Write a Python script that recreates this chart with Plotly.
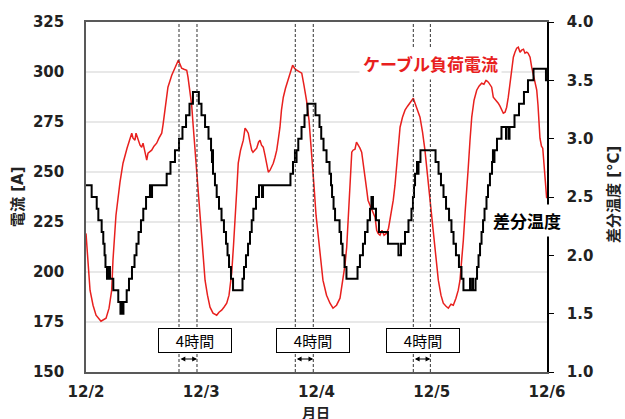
import plotly.graph_objects as go

# ---------------- data (time in days since 12/2 00:00) ----------------
cur_day = [0.000, 0.017, 0.035, 0.061, 0.087, 0.130, 0.174, 0.200, 0.223, 0.234,
           0.260, 0.295, 0.321, 0.356, 0.382, 0.397, 0.408, 0.425, 0.434, 0.451,
           0.469, 0.483, 0.495, 0.512, 0.527, 0.538, 0.570, 0.590, 0.613, 0.633,
           0.657, 0.668, 0.685, 0.711, 0.744, 0.772, 0.790, 0.801, 0.816, 0.830,
           0.850, 0.874, 0.885, 0.902, 0.917, 0.931, 0.946, 0.961, 0.972, 0.983,
           0.998, 1.015, 1.033, 1.054, 1.076, 1.102, 1.134, 1.154, 1.177, 1.197,
           1.221, 1.241, 1.264, 1.280, 1.293, 1.308, 1.321, 1.341, 1.365, 1.380,
           1.393, 1.408, 1.423, 1.438, 1.449, 1.466, 1.481, 1.497, 1.510, 1.523,
           1.538, 1.553, 1.568, 1.582, 1.597, 1.625, 1.640, 1.655, 1.670, 1.683,
           1.696, 1.712, 1.731, 1.755, 1.774, 1.793, 1.809, 1.828, 1.844, 1.857,
           1.872, 1.891, 1.913, 1.935, 1.957, 1.978, 1.996, 2.013, 2.035, 2.056,
           2.087, 2.117, 2.143, 2.174, 2.204, 2.230, 2.247, 2.262, 2.278, 2.291,
           2.300, 2.306, 2.317, 2.334, 2.347, 2.363, 2.377, 2.392, 2.403, 2.421,
           2.436, 2.447, 2.464, 2.486, 2.508, 2.522, 2.534, 2.551, 2.568, 2.586,
           2.609, 2.625, 2.638, 2.652, 2.666, 2.681, 2.696, 2.710, 2.725, 2.746,
           2.768, 2.790, 2.811, 2.824, 2.840, 2.855, 2.869, 2.885, 2.898, 2.920,
           2.941, 2.963, 2.985, 3.000, 3.013, 3.035, 3.057, 3.080, 3.100, 3.124,
           3.144, 3.167, 3.187, 3.210, 3.230, 3.245, 3.260, 3.274, 3.289, 3.303,
           3.317, 3.332, 3.347, 3.367, 3.390, 3.410, 3.433, 3.453, 3.471, 3.491,
           3.505, 3.520, 3.534, 3.549, 3.562, 3.577, 3.592, 3.605, 3.621, 3.636,
           3.650, 3.664, 3.679, 3.692, 3.708, 3.722, 3.737, 3.751, 3.766, 3.780,
           3.796, 3.809, 3.824, 3.836, 3.853, 3.867, 3.881, 3.896, 3.911, 3.922,
           3.931, 3.939, 3.952, 3.963, 3.970, 3.983, 3.997]
cur_amp = [219.3, 203.3, 190.9, 183.4, 178.4, 175.4, 176.9, 181.9, 190.9, 205.9,
           228.4, 244.9, 254.4, 261.9, 267.4, 269.4, 266.9, 265.9, 269.4, 266.9,
           263.4, 262.4, 264.4, 259.9, 255.9, 259.4, 260.9, 262.9, 264.4, 266.9,
           269.4, 273.4, 280.9, 292.4, 298.4, 302.4, 304.4, 305.9, 303.9, 301.9,
           301.4, 300.9, 297.4, 290.9, 283.4, 272.4, 260.9, 249.4, 243.0, 236.0,
           223.4, 208.4, 195.9, 188.4, 182.4, 179.4, 178.4, 179.9, 180.9, 182.4,
           184.4, 188.4, 199.4, 213.4, 229.4, 240.9, 254.4, 260.9, 265.9, 271.9,
           270.9, 269.4, 264.9, 260.9, 259.9, 260.9, 261.9, 264.9, 265.9, 263.4,
           262.4, 258.4, 254.4, 249.9, 250.9, 254.4, 257.4, 260.9, 266.9, 272.4,
           280.9, 287.4, 291.9, 295.9, 299.9, 303.4, 301.9, 300.9, 300.4, 299.9,
           299.4, 293.4, 285.9, 275.9, 260.9, 243.4, 228.4, 219.4, 206.9, 195.9,
           188.4, 184.4, 181.9, 183.4, 186.9, 195.9, 203.4, 212.4, 228.4, 240.9,
           253.4, 259.9, 260.9, 261.4, 264.9, 263.4, 261.9, 259.9, 255.9, 247.4,
           240.9, 235.9, 233.4, 229.9, 227.4, 220.9, 219.4, 218.4, 220.9, 218.4,
           219.4, 221.9, 225.9, 230.9, 235.9, 243.4, 252.4, 263.4, 272.4, 277.4,
           280.9, 282.9, 284.4, 285.4, 286.9, 284.4, 282.4, 279.9, 277.4, 269.9,
           260.9, 248.4, 235.9, 228.4, 220.9, 208.4, 195.9, 188.4, 184.4, 182.9,
           181.9, 183.9, 183.4, 186.9, 190.9, 195.9, 204.4, 215.9, 229.4, 243.4,
           252.4, 265.9, 277.4, 285.9, 290.9, 292.9, 294.4, 293.9, 295.9, 294.9,
           293.9, 292.4, 287.4, 286.4, 285.4, 284.4, 282.9, 280.9, 279.4, 279.9,
           282.4, 287.4, 294.4, 300.9, 307.4, 309.9, 311.9, 312.4, 309.9, 310.9,
           311.4, 309.4, 309.9, 309.4, 307.4, 302.4, 298.4, 294.4, 290.9, 283.4,
           273.4, 266.9, 262.9, 261.9, 256.9, 246.9, 236.9]

dt_day = [0.000, 0.049, 0.093, 0.107, 0.136, 0.150, 0.161, 0.169, 0.182, 0.191,
          0.195, 0.204, 0.208, 0.237, 0.280, 0.299, 0.308, 0.312, 0.325, 0.353,
          0.373, 0.399, 0.421, 0.438, 0.456, 0.477, 0.497, 0.521, 0.555, 0.560,
          0.573, 0.700, 0.733, 0.772, 0.807, 0.837, 0.868, 0.898, 0.928, 0.979,
          1.002, 1.033, 1.063, 1.085, 1.093, 1.098, 1.102, 1.119, 1.134, 1.154,
          1.176, 1.197, 1.215, 1.228, 1.241, 1.258, 1.276, 1.358, 1.371, 1.388,
          1.406, 1.423, 1.438, 1.452, 1.475, 1.501, 1.527, 1.536, 1.774, 1.796,
          1.813, 1.822, 1.827, 1.842, 1.870, 1.896, 1.922, 1.991, 2.026, 2.041,
          2.061, 2.087, 2.113, 2.126, 2.135, 2.148, 2.161, 2.200, 2.213, 2.226,
          2.243, 2.260, 2.356, 2.377, 2.403, 2.421, 2.443, 2.464, 2.477, 2.490,
          2.516, 2.542, 2.620, 2.711, 2.733, 2.768, 2.798, 2.824, 2.837, 2.846,
          2.855, 2.872, 2.881, 2.885, 2.902, 3.033, 3.059, 3.080, 3.102, 3.124,
          3.150, 3.171, 3.189, 3.210, 3.236, 3.258, 3.275, 3.332, 3.336, 3.354,
          3.358, 3.380, 3.393, 3.406, 3.419, 3.432, 3.445, 3.458, 3.475, 3.488,
          3.505, 3.523, 3.531, 3.536, 3.544, 3.566, 3.605, 3.644, 3.649, 3.670,
          3.675, 3.718, 3.757, 3.800, 3.835, 3.883, 3.991, 4.000]
dt_temp = [2.6, 2.5, 2.4, 2.3, 2.2, 2.1, 2.0, 1.9, 1.8, 1.9,
           1.8, 1.9, 1.8, 1.7, 1.6, 1.5, 1.6, 1.5, 1.6, 1.7,
           1.8, 1.9, 2.0, 2.1, 2.2, 2.3, 2.4, 2.5, 2.6, 2.5,
           2.6, 2.7, 2.8, 2.9, 3.0, 3.1, 3.2, 3.3, 3.4, 3.3,
           3.2, 3.1, 3.0, 2.9, 2.8, 2.9, 2.7, 2.6, 2.5, 2.4,
           2.3, 2.2, 2.1, 2.0, 1.9, 1.8, 1.7, 1.8, 1.9, 2.0,
           2.1, 2.2, 2.3, 2.4, 2.5, 2.6, 2.5, 2.6, 2.7, 2.8,
           2.9, 2.8, 2.9, 3.0, 3.1, 3.2, 3.3, 3.2, 3.1, 3.0,
           2.9, 2.8, 2.7, 2.6, 2.5, 2.4, 2.3, 2.2, 2.1, 2.0,
           1.9, 1.8, 1.9, 2.0, 2.1, 2.2, 2.3, 2.4, 2.5, 2.4,
           2.3, 2.2, 2.1, 2.0, 2.1, 2.2, 2.3, 2.4, 2.5, 2.6,
           2.7, 2.8, 2.7, 2.8, 2.9, 2.8, 2.7, 2.6, 2.5, 2.4,
           2.3, 2.2, 2.1, 2.0, 1.9, 1.8, 1.7, 1.8, 1.7, 1.8,
           1.7, 1.8, 1.9, 2.0, 2.1, 2.2, 2.3, 2.4, 2.5, 2.6,
           2.7, 2.8, 2.9, 2.8, 2.9, 3.0, 3.1, 3.0, 3.1, 3.0,
           3.1, 3.2, 3.3, 3.4, 3.5, 3.6, 3.5, 3.5]

tick_vals = [0, 1, 2, 3, 4]
tick_text = ["12/2", "12/3", "12/4", "12/5", "12/6"]

lag_start = [0.807, 1.816, 2.840]   # current peak
lag_end = [0.963, 1.972, 2.988]     # temperature peak
lag_box_x = [0.943, 1.968, 2.920]
lag_label = "4時間"

cur_name = "ケーブル負荷電流"
dt_name = "差分温度"
x_title = "月日"
y_title = "電流 [A]"
y2_title = "差分温度 [°C]"

# ---------------- figure ----------------
RED = "#E8201E"
LAT = "DejaVu Sans, Noto Sans CJK JP"
JP = "Noto Sans CJK JP, DejaVu Sans"

fig = go.Figure()
fig.add_trace(go.Scatter(x=cur_day, y=cur_amp, mode="lines", name=cur_name,
                         line=dict(color=RED, width=1.5), yaxis="y"))
fig.add_trace(go.Scatter(x=dt_day, y=dt_temp, mode="lines", name=dt_name,
                         line=dict(color="#000000", width=2, shape="hv"), yaxis="y2"))

shapes = []
for xs in lag_start + lag_end:
    shapes.append(dict(type="line", xref="x", yref="paper", x0=xs, x1=xs, y0=0, y1=1,
                       line=dict(color="#333333", width=1, dash="3px,2px"), layer="above"))

ann = []
for s, e, bx in zip(lag_start, lag_end, lag_box_x):
    ann.append(dict(x=bx, y=0.09, xref="x", yref="paper", yanchor="middle", xanchor="center",
                    text=lag_label,
                    showarrow=False, font=dict(family=JP, size=15, color="#000"),
                    bgcolor="white", bordercolor="#000", borderwidth=1, borderpad=1,
                    width=70, height=21))
    ann.append(dict(x=e, y=156.5, xref="x", yref="y", ax=s, ay=156.5, axref="x", ayref="y",
                    text="", showarrow=True, arrowhead=2, arrowside="end+start",
                    arrowsize=0.8, arrowwidth=1.2, arrowcolor="#000"))

ann.append(dict(x=2.99, y=304.5, xref="x", yref="y", text="<b>" + cur_name + "</b>",
                showarrow=False, font=dict(family=JP, size=17, color=RED),
                bgcolor="white", borderpad=3))
ann.append(dict(x=3.826, y=225.9, xref="x", yref="y", text="<b>" + dt_name + "</b>",
                showarrow=False, font=dict(family=JP, size=17, color="#000"),
                bgcolor="white", borderpad=3))

# axis titles (positions given in pixels, converted to paper fractions below)
ann.append(dict(x=18, y=197, xref="paper", yref="paper", xanchor="center", yanchor="middle",
                text="<b>" + y_title + "</b>", textangle=-90, showarrow=False,
                font=dict(family=LAT, size=15, color="#222")))
ann.append(dict(x=316, y=411.5, xref="paper", yref="paper", xanchor="center", yanchor="middle",
                text="<b>" + x_title + "</b>", showarrow=False, height=15, borderpad=0,
                font=dict(family=JP, size=14, color="#222")))
ann.append(dict(x=614, y=195, xref="paper", yref="paper", xanchor="center", yanchor="middle",
                text="<b>" + y2_title + "</b>", textangle=-90, showarrow=False,
                font=dict(family=LAT, size=15, color="#222")))

L, R, T, B, W, H = 86, 78, 22, 47, 625, 419
pw, ph = W - L - R, H - T - B
for a in ann[-3:]:
    a["x"] = (a["x"] - L) / pw
    a["y"] = (H - B - a["y"]) / ph

fig.update_layout(
    width=W, height=H,
    margin=dict(l=L, r=R, t=T, b=B, autoexpand=False),
    paper_bgcolor="white", plot_bgcolor="white",
    showlegend=False,
    shapes=shapes, annotations=ann,
    xaxis=dict(range=[0, 4], tickvals=tick_vals, ticktext=tick_text, automargin=False,
               showgrid=False, zeroline=False, showline=True, mirror=True,
               linecolor="#595959", linewidth=1.5, ticks="",
               tickfont=dict(family=LAT, size=15, color="#222", weight="bold"),
               ticklabelstandoff=5),
    yaxis=dict(range=[150, 325], dtick=25, showgrid=True, gridcolor="#e8e8e8",
               gridwidth=1.5, zeroline=False, showline=True, linecolor="#595959",
               linewidth=1.5, ticks="", automargin=False,
               tickfont=dict(family=LAT, size=15, color="#222", weight="bold"),
               ticklabelstandoff=17),
    yaxis2=dict(range=[1, 4], dtick=0.5, tickformat=".1f", overlaying="y", side="right",
                showgrid=False, zeroline=False, showline=True, linecolor="#000",
                linewidth=1.5, ticks="outside", ticklen=5, tickcolor="#000", automargin=False,
                tickfont=dict(family=LAT, size=15, color="#222", weight="bold"),
                ticklabelstandoff=10),
)

fig.write_html("out.html", config={"displayModeBar": False},
               post_script="document.body.style.margin='0px';document.body.style.overflow='hidden';")
